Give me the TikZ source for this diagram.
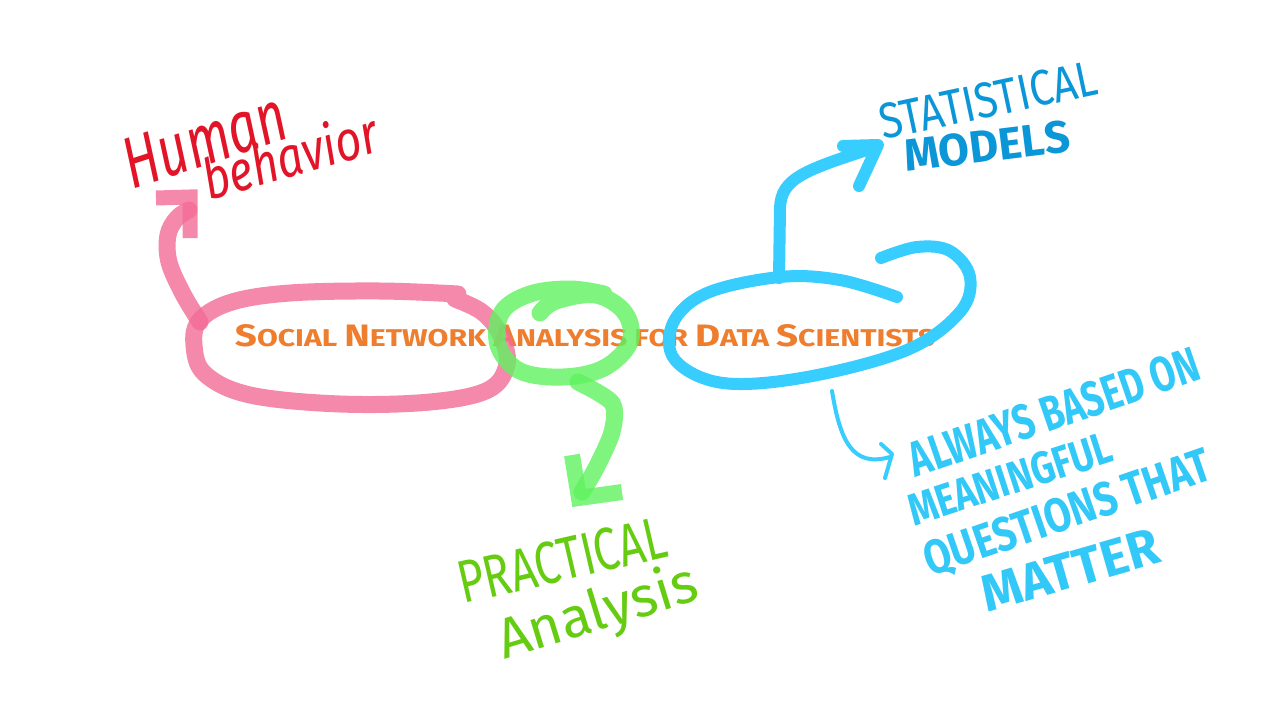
\documentclass[tikz,border=0pt]{standalone}
\usepackage{fontspec}
\setmainfont{Fira Sans}
\definecolor{pinkm}{RGB}{243,108,150}
\definecolor{greenm}{RGB}{95,242,95}
\definecolor{bluem}{RGB}{55,205,255}
\definecolor{bluedark}{RGB}{10,150,215}
\definecolor{redpen}{RGB}{226,20,40}
\definecolor{greenpen}{RGB}{102,204,17}
\definecolor{bluepen}{RGB}{50,200,248}
\definecolor{orangeT}{RGB}{238,125,45}
\newcommand\SCw[2]{{\fontsize{30pt}{30pt}\selectfont #1}{\fontsize{23.5pt}{23.5pt}\selectfont #2}}
\newcommand\wsp{\hspace{0.55em}}
\tikzset{
  txt/.style={inner sep=0pt, anchor=center},
  pinkpen/.style={draw=pinkm, draw opacity=0.8, line width=17pt, line cap=round, line join=round},
  pinkhead/.style={draw=pinkm, draw opacity=0.8, line width=15pt, line cap=butt, line join=miter},
  greenpen/.style={draw=greenm, draw opacity=0.8, line width=17pt, line cap=round, line join=round},
  greenhead/.style={draw=greenm, draw opacity=0.8, line width=16pt, line cap=butt, line join=miter},
  bluepenL/.style={draw=bluem, line width=12pt, line cap=round, line join=round},
  bluethin/.style={draw=bluem, line width=4pt, line cap=round, line join=round},
}
\begin{document}
\begin{tikzpicture}[x=1pt,y=-1pt]
\useasboundingbox (0,0) rectangle (1280,720);
\fill[white] (0,0) rectangle (1280,720);

% title
\node[txt, text=orangeT] (title) at (585,336)
  {\resizebox{700pt}{22pt}{\bfseries\SCw{S}{OCIAL}\wsp\SCw{N}{ETWORK}\wsp\SCw{A}{NALYSIS}\wsp{\fontsize{23.5pt}{23.5pt}\selectfont FOR}\wsp\SCw{D}{ATA}\wsp\SCw{S}{CIENTISTS}}};

% labels
\node[txt, text=redpen, rotate=18] (human) at (205,140) {\resizebox{168pt}{50pt}{\itshape Human}};
\node[txt, text=redpen, rotate=16] (behav) at (290,155) {\resizebox{180pt}{44pt}{\itshape behavior}};
\node[txt, text=bluedark, rotate=12] (stat) at (988,100) {\resizebox{222pt}{35pt}{STATISTICAL}};
\node[txt, text=bluedark, rotate=7] (models) at (987,146) {\resizebox{166pt}{32pt}{\bfseries MODELS}};
\node[txt, text=greenpen, rotate=13] (pract) at (562,560) {\resizebox{212pt}{42pt}{PRACTICAL}};
\node[txt, text=greenpen, rotate=17] (analys) at (598,614) {\resizebox{206pt}{44pt}{Analysis}};
\node[txt, text=bluepen, rotate=19] (l1) at (1054,412) {\resizebox{304pt}{35pt}{\bfseries ALWAYS BASED ON}};
\node[txt, text=bluepen, rotate=18] (l2) at (1010,479) {\resizebox{212pt}{32pt}{\bfseries MEANINGFUL}};
\node[txt, text=bluepen, rotate=19] (l3) at (1068,515) {\resizebox{300pt}{34pt}{\bfseries QUESTIONS THAT}};
\node[txt, text=bluepen, rotate=16] (l4) at (1070,570) {\resizebox{182pt}{36pt}{\bfseries MATTER}};

% connector end points
\coordinate (pinkS) at (200,322);
\coordinate (pinkT) at (189,210);
\coordinate (greenS) at (578,382);
\coordinate (greenT) at (582,492);
\coordinate (blueS) at (779,278);
\coordinate (blueT) at (876,147);
\coordinate (thinS) at (832,391);
\coordinate (thinT) at (890,457);

% pink loop
\draw[pinkpen] plot[smooth, tension=0.6] coordinates {(458,294) (380,291) (290,293) (232,302) (200,320) (194,345) (205,374) (250,395) (340,404) (430,402) (488,390) (507,364) (500,334) (482,312) (455,299)};
% pink arrow
\draw[pinkpen] plot[smooth, tension=0.6] coordinates {(pinkS) (183,294) (169,262) (168,235) (177,218) (pinkT)};
\draw[pinkhead] (156,198) -- (190,197) -- (190,238);

% green loop
\draw[greenpen] plot[smooth, tension=0.6] coordinates {(540,313) (556,301) (596,295) (625,313) (630,342) (604,368) (563,377) (520,371) (498,345) (502,312) (530,294) (570,289) (604,294)};
% green arrow
\draw[greenpen] plot[smooth, tension=0.5] coordinates {(greenS) (612,403) (612,432) (596,468) (greenT)};
\draw[greenhead] (572,455) -- (579,498) -- (622,492);

% blue loop
\draw[bluepenL] plot[smooth, tension=0.6] coordinates {(897,297) (840,280) (780,277) (707,293) (673,323) (675,360) (723,383) (807,377) (907,350) (960,312) (970,277) (950,251) (917,247) (881,258)};
% blue arrow up
\draw[bluepenL] (blueS) -- (780,208) .. controls (781,178) and (805,170) .. (blueT);
\draw[bluepenL] (843,146) -- (878,145) -- (859,186);
% thin blue arrow
\draw[bluethin] (thinS) .. controls (840,440) and (852,468) .. (thinT);
\draw[bluethin] (881,444) -- (892,454) -- (885,478);
\end{tikzpicture}
\end{document}
